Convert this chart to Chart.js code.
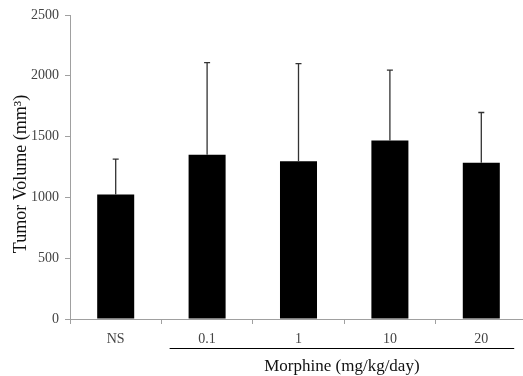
<!DOCTYPE html>
<html>
<head>
<meta charset="utf-8">
<script src="https://cdn.jsdelivr.net/npm/chart.js@4"></script>
<style>
  html, body { margin: 0; padding: 0; background: #fff; overflow: hidden; }
  #wrap { width: 530px; height: 376px; position: relative; }
</style>
</head>
<body>
<div id="wrap"><canvas id="c"></canvas></div>
<script>
const categories = ["NS", "0.1", "1", "10", "20"];
const meanVolume = [1024, 1350, 1298, 1468, 1284];
const sdVolume = [290, 759, 802, 578, 414];
const yAxisMax = 2500;
const yAxisStep = 500;
const yTitle = "Tumor Volume (mm\u00B3)";
const groupTitle = "Morphine (mg/kg/day)";
const FONT = "'Liberation Serif', 'Times New Roman', serif";

const errorBars = {
  id: 'errorBars',
  afterDatasetsDraw(chart) {
    const ctx = chart.ctx;
    const meta = chart.getDatasetMeta(0);
    const y = chart.scales.y;
    ctx.save();
    ctx.strokeStyle = '#333';
    ctx.lineWidth = 1.3;
    meta.data.forEach((bar, i) => {
      const top = y.getPixelForValue(meanVolume[i] + sdVolume[i]);
      const base = y.getPixelForValue(meanVolume[i]);
      ctx.beginPath();
      ctx.moveTo(bar.x, base);
      ctx.lineTo(bar.x, top);
      ctx.moveTo(bar.x - 3, top);
      ctx.lineTo(bar.x + 3, top);
      ctx.stroke();
    });
    ctx.restore();
  }
};

const labels = {
  id: 'labels',
  afterDraw(chart) {
    const ctx = chart.ctx;
    const x = chart.scales.x;
    const area = chart.chartArea;
    const w = x.getPixelForValue(1) - x.getPixelForValue(0);
    const left = x.getPixelForValue(1) - 0.41 * w;
    const right = x.getPixelForValue(4) + 0.36 * w;
    const lineY = area.bottom + 29;
    ctx.save();
    ctx.strokeStyle = '#000';
    ctx.lineWidth = 1;
    ctx.beginPath();
    ctx.moveTo(left, lineY + 0.5);
    ctx.lineTo(right, lineY + 0.5);
    ctx.stroke();
    ctx.fillStyle = '#111';
    ctx.font = "17px " + FONT;
    ctx.textAlign = 'center';
    ctx.textBaseline = 'middle';
    ctx.fillText(groupTitle, (left + right) / 2, lineY + 19);
    // y axis title
    ctx.translate(21, (area.top + area.bottom) / 2 + 7);
    ctx.rotate(-Math.PI / 2);
    ctx.font = "18px " + FONT;
    ctx.fillText(yTitle, 0, 0);
    ctx.restore();
  }
};

new Chart(document.getElementById('c'), {
  type: 'bar',
  data: {
    labels: categories,
    datasets: [{
      data: meanVolume,
      backgroundColor: '#000',
      borderWidth: 0,
      barPercentage: 0.405,
      categoryPercentage: 1
    }]
  },
  options: {
    responsive: true,
    maintainAspectRatio: false,
    animation: false,
    devicePixelRatio: 1,
    layout: { padding: { left: 0, right: 3, top: 15, bottom: 0 } },
    plugins: { legend: { display: false }, tooltip: { enabled: false } },
    scales: {
      x: {
        grid: { display: true, drawOnChartArea: false, drawTicks: true, tickLength: 5, color: '#a0a0a0', offset: true },
        border: { display: true, color: '#a0a0a0', width: 1 },
        ticks: { color: '#444', font: { family: FONT, size: 14 }, padding: 7, maxRotation: 0 },
        afterFit(s) { s.height = 57; }
      },
      y: {
        min: 0,
        max: yAxisMax,
        grid: { display: true, drawOnChartArea: false, drawTicks: true, tickLength: 5, color: '#a0a0a0' },
        border: { display: true, color: '#a0a0a0', width: 1 },
        ticks: { stepSize: yAxisStep, color: '#444', font: { family: FONT, size: 14 }, padding: 6,
                 callback: (v) => String(v) },
        afterFit(s) { s.width = 70; }
      }
    }
  },
  plugins: [errorBars, labels]
});
</script>
</body>
</html>
